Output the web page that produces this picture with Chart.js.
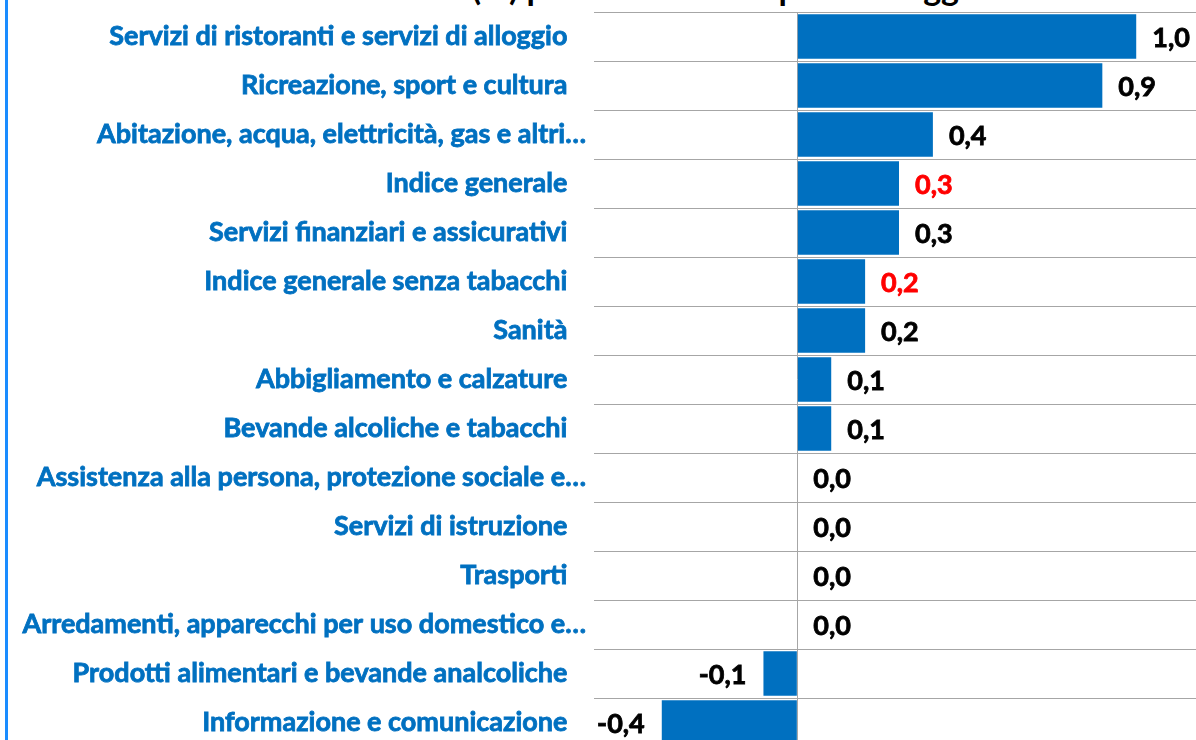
<!DOCTYPE html>
<html lang="it">
<head>
<meta charset="utf-8">
<title>Variazioni per divisione di spesa</title>
<script src="https://cdn.jsdelivr.net/npm/chart.js@4.4.1/dist/chart.umd.min.js"></script>
<style>
    html, body {
        margin: 0;
        padding: 0;
        width: 1196px;
        height: 740px;
        overflow: hidden;
        background: #ffffff;
        font-family: 'Lato', 'Open Sans', sans-serif;
    }
    #frame {
        position: absolute;
        left: 5px;
        top: 0;
        width: 3px;
        height: 740px;
        background: #1a8cff;
    }
    #titolo {
        position: absolute;
        left: 315px;
        top: -30px;
        font-weight: bold;
        font-size: 34px;
        line-height: 34px;
        color: #000000;
        white-space: nowrap;
    }
    #wrap {
        position: absolute;
        left: 0;
        top: 0;
        width: 1204px;
        height: 747px;
    }
</style>
</head>
<body>
<div id="frame"></div>
<div id="titolo">Variazioni (%) per divisione di spesa - maggio 2025</div>
<div id="wrap"><canvas id="grafic"></canvas></div>
<script>
// Dades
const categorie = [
    'Servizi di ristoranti e servizi di alloggio',
    'Ricreazione, sport e cultura',
    'Abitazione, acqua, elettricità, gas e altri…',
    'Indice generale',
    'Servizi finanziari e assicurativi',
    'Indice generale senza tabacchi',
    'Sanità',
    'Abbigliamento e calzature',
    'Bevande alcoliche e tabacchi',
    'Assistenza alla persona, protezione sociale e…',
    'Servizi di istruzione',
    'Trasporti',
    'Arredamenti, apparecchi per uso domestico e…',
    'Prodotti alimentari e bevande analcoliche',
    'Informazione e comunicazione'
];
const variazioni = [1.0, 0.9, 0.4, 0.3, 0.3, 0.2, 0.2, 0.1, 0.1, 0.0, 0.0, 0.0, 0.0, -0.1, -0.4];
// etichette in rosso per gli indici generali
const indiciGenerali = ['Indice generale', 'Indice generale senza tabacchi'];

const BLU = '#0070c0';
const GRIGIO = '#a6a6a6';
const FONT = "'Lato', 'Open Sans', sans-serif";

const formatta = v => v.toFixed(1).replace('.', ',');

/**
 * Plugin per scrivere il valore accanto a ogni barra
 */
const etichetteValori = {
    id: 'etichetteValori',
    afterDatasetsDraw(chart) {
        const ctx = chart.ctx;
        const meta = chart.getDatasetMeta(0);
        ctx.save();
        ctx.font = `bold 27px ${FONT}`;
        ctx.textBaseline = 'middle';
        ctx.lineWidth = 0.8;
        meta.data.forEach((bar, i) => {
            const v = variazioni[i];
            const colore = indiciGenerali.includes(categorie[i]) ? '#ff0000' : '#000000';
            ctx.fillStyle = colore;
            ctx.strokeStyle = colore;
            let x;
            if (v < 0) {
                ctx.textAlign = 'right';
                x = bar.x - 17;
            } else {
                ctx.textAlign = 'left';
                x = bar.x + 16;
            }
            ctx.fillText(formatta(v), x, bar.y + 2);
            ctx.strokeText(formatta(v), x, bar.y + 2);
        });
        ctx.restore();
    }
};

const ctx = document.getElementById('grafic').getContext('2d');
new Chart(ctx, {
    type: 'bar',
    data: {
        labels: categorie,
        datasets: [{
            data: variazioni,
            backgroundColor: BLU,
            borderWidth: 0,
            categoryPercentage: 1,
            barPercentage: 0.91
        }]
    },
    options: {
        indexAxis: 'y',
        responsive: true,
        maintainAspectRatio: false,
        animation: false,
        layout: { padding: { top: 12, left: 0, right: 0, bottom: 0 } },
        plugins: {
            legend: { display: false },
            tooltip: { enabled: false }
        },
        scales: {
            x: {
                min: -0.6,
                max: 1.2,
                ticks: { display: false, stepSize: 0.2 },
                border: { display: false },
                grid: {
                    drawTicks: false,
                    color: c => (Math.abs(c.tick.value) < 1e-9 ? GRIGIO : 'transparent'),
                    lineWidth: 1
                },
                afterFit: scale => {
                    scale.height = 0;
                    scale.paddingLeft = 0;
                    scale.paddingRight = 0;
                }
            },
            y: {
                border: { display: false },
                grid: {
                    color: GRIGIO,
                    lineWidth: 1,
                    drawTicks: false
                },
                ticks: {
                    color: BLU,
                    textStrokeColor: BLU,
                    textStrokeWidth: 0.8,
                    padding: 8,
                    autoSkip: false,
                    font: { family: FONT, size: 27, weight: 'bold' },
                    // le etichette non troncate hanno uno spazio in fondo
                    callback: function (value) {
                        const lab = this.getLabelForValue(value);
                        return lab.endsWith('…') ? lab : lab + '\u2002\u2009\u200a';
                    }
                },
                afterFit: scale => {
                    scale.width = 594;
                    scale.paddingTop = 0;
                    scale.paddingBottom = 0;
                }
            }
        }
    },
    plugins: [etichetteValori]
});
</script>
</body>
</html>
